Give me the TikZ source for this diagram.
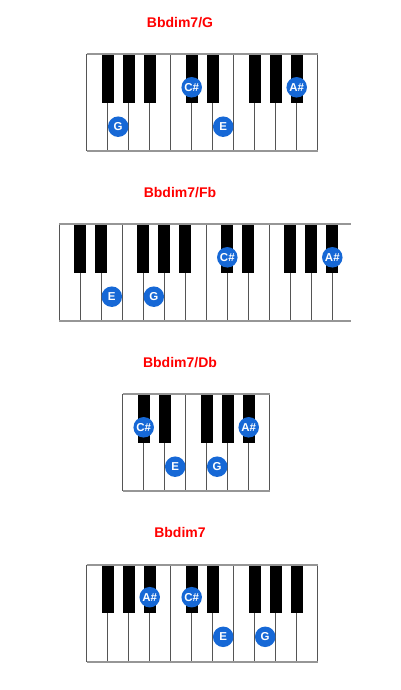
\documentclass[tikz,border=0pt]{standalone}
\usepackage{fontspec}
\setsansfont{Liberation Sans}
\definecolor{noteblue}{RGB}{22,104,214}
\definecolor{keyline}{RGB}{85,85,85}
\definecolor{keyedge}{RGB}{150,150,150}
\definecolor{titlered}{RGB}{255,0,0}
\usetikzlibrary{positioning}
\tikzset{
    keyline/.style={draw=keyline, line width=0.9pt},
    keyedge/.style={draw=keyedge, line width=2pt},
    blackkey/.style={fill=black},
    note/.style={
           circle,
           fill=noteblue,
           text=white,
           inner sep=0pt,
           minimum size=20.5pt,
           font=\sffamily\bfseries\fontsize{11.5}{11.5}\selectfont,
           },
    chordname/.style={
           text=titlered,
           anchor=base,
           inner sep=0pt,
           font=\sffamily\bfseries\fontsize{14}{14}\selectfont,
           },
}
% #1 left, #2 top, #3 right, #4 last line index, #5 black keys
\newcommand{\keybed}[5]{
  \fill[white] (#1,#2) rectangle (#3,#2+97);
  \foreach \k in {0,...,#4} \draw[keyline] ({#1+\k*21},#2) -- ++(0,97);
  \foreach \k in {#5} \fill[blackkey] ({#1+\k*21-5.85},#2) rectangle ++(11.7,48.5);
  \draw[keyedge] (#1,#2) -- (#3,#2) (#1,#2+97) -- (#3,#2+97);
}
\newcommand{\blackx}[2]{#1+#2*21}
\newcommand{\whitex}[2]{#1+#2*21+10.5}

\begin{document}
\begin{tikzpicture}[x=1pt, y=-1pt]
  \useasboundingbox (0,0) rectangle (400,690);

  % Bbdim7/G
  \node[chordname] (T1) at (180, 27.5) {Bbdim7/G};
  \keybed{86.7}{54.3}{317.7}{11}{1,2,3,5,6,8,9,10}
  \node[note] (G1)  at ({\whitex{86.7}{1}}, 126.7) {G};
  \node[note] (Cs1) at ({\blackx{86.7}{5}}, 87.3)  {C\#};
  \node[note] (E1)  at ({\whitex{86.7}{6}}, 126.7) {E};
  \node[note] (As1) at ({\blackx{86.7}{10}}, 87.3) {A\#};

  % Bbdim7/Fb
  \node[chordname] (T2) at (180, 197.5) {Bbdim7/Fb};
  \keybed{59.3}{224.3}{351}{13}{1,2,4,5,6,8,9,11,12,13}
  \node[note] (E2)  at ({\whitex{59.3}{2}}, 296.7) {E};
  \node[note] (G2)  at ({\whitex{59.3}{4}}, 296.7) {G};
  \node[note] (Cs2) at ({\blackx{59.3}{8}}, 257.3)  {C\#};
  \node[note] (As2) at ({\blackx{59.3}{13}}, 257.3) {A\#};

  % Bbdim7/Db
  \node[chordname] (T3) at (180, 367.5) {Bbdim7/Db};
  \keybed{122.7}{394.3}{269.7}{7}{1,2,4,5,6}
  \node[note] (Cs3) at ({\blackx{122.7}{1}}, 427.3) {C\#};
  \node[note] (E3)  at ({\whitex{122.7}{2}}, 466.7) {E};
  \node[note] (G3)  at ({\whitex{122.7}{4}}, 466.7) {G};
  \node[note] (As3) at ({\blackx{122.7}{6}}, 427.3) {A\#};

  % Bbdim7
  \node[chordname] (T4) at (180, 537.5) {Bbdim7};
  \keybed{86.7}{564.5}{317.7}{11}{1,2,3,5,6,8,9,10}
  \node[note] (As4) at ({\blackx{86.7}{3}}, 597.2) {A\#};
  \node[note] (Cs4) at ({\blackx{86.7}{5}}, 597.2) {C\#};
  \node[note] (E4)  at ({\whitex{86.7}{6}}, 636.8) {E};
  \node[note] (G4)  at ({\whitex{86.7}{8}}, 636.8) {G};
\end{tikzpicture}
\end{document}
